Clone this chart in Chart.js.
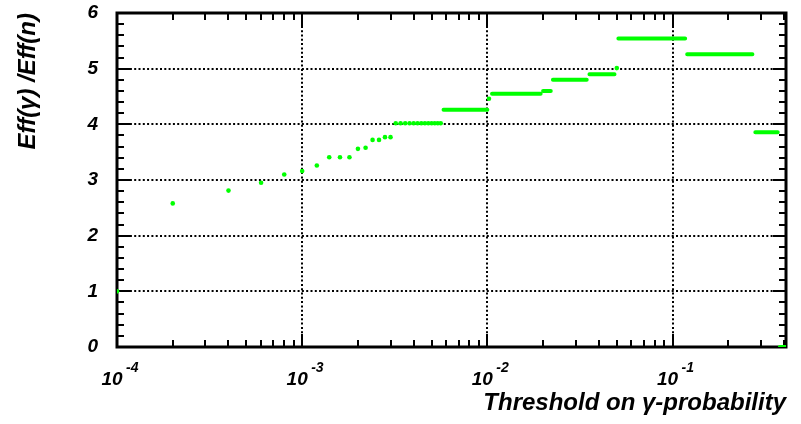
<!DOCTYPE html>
<html lang="en">
<head>
<meta charset="UTF-8">
<title>Eff(gamma)/Eff(n) vs threshold</title>
<script src="https://cdn.jsdelivr.net/npm/chart.js"></script>
<style>
  body { margin: 0; background: #fff; }
  .wrap { width: 801px; height: 424px; }
</style>
</head>
<body>
<div class="wrap"><canvas id="effChart"></canvas></div>
<script>
// thresholds drawn as single points
const dotX = [1e-4, 2e-4, 4e-4, 6e-4, 8e-4, 1.0e-3, 1.2e-3, 1.4e-3, 1.6e-3, 1.8e-3,
              2.0e-3, 2.2e-3, 2.4e-3, 2.6e-3, 2.8e-3, 3.0e-3, 3.2e-3, 3.4e-3, 3.6e-3, 3.8e-3,
              4.0e-3, 4.2e-3, 4.4e-3, 4.6e-3, 4.8e-3, 5.0e-3, 5.2e-3, 5.4e-3, 5.6e-3, 1.02e-2, 5.0e-2];
const dotY = [1.00, 2.58, 2.81, 2.95, 3.10, 3.16, 3.26, 3.41, 3.41, 3.41,
              3.56, 3.58, 3.72, 3.72, 3.77, 3.77, 4.02, 4.02, 4.02, 4.02,
              4.02, 4.02, 4.02, 4.02, 4.02, 4.02, 4.02, 4.02, 4.02, 4.46, 5.01];

// plateaus where many thresholds give the same ratio
const stepStart = [5.8e-3, 1.06e-2, 2.0e-2, 2.26e-2, 3.56e-2, 5.1e-2, 0.12, 0.28, 0.38];
const stepEnd   = [1.0e-2, 1.94e-2, 2.2e-2, 3.44e-2, 4.86e-2, 0.117, 0.27, 0.37, 0.41];
const stepY     = [4.26, 4.55, 4.60, 4.80, 4.90, 5.54, 5.26, 3.86, 0.0];

// axis labels
const xDecades = [1e-4, 1e-3, 1e-2, 1e-1];
const xExponents = ['-4', '-3', '-2', '-1'];
const yTicks = [0, 1, 2, 3, 4, 5, 6];

const FONT = "'Liberation Sans', Arial, sans-serif";
const GREEN = '#00ff00';

const dots = dotX.map((x, i) => ({ x: x, y: dotY[i] }));
const steps = [];
stepStart.forEach((s, i) => {
  steps.push({ x: s, y: stepY[i] }, { x: stepEnd[i], y: stepY[i] }, { x: stepEnd[i], y: null });
});

// ROOT style frame: dotted grid, inward ticks, thick box
const framePlugin = {
  id: 'rootFrame',
  beforeDatasetsDraw(chart) {
    const { ctx, chartArea: a, scales: { x, y } } = chart;
    ctx.save();
    ctx.strokeStyle = '#000';

    // dotted grid at decades and integer ratios
    ctx.lineWidth = 2;
    ctx.setLineDash([2, 2.3]);
    ctx.beginPath();
    xDecades.slice(1).forEach(v => {
      const px = Math.round(x.getPixelForValue(v));
      ctx.moveTo(px, a.top);
      ctx.lineTo(px, a.bottom);
    });
    yTicks.slice(1, -1).forEach(v => {
      const py = Math.round(y.getPixelForValue(v));
      ctx.moveTo(a.left, py);
      ctx.lineTo(a.right, py);
    });
    ctx.stroke();
    ctx.setLineDash([]);

    // ticks on all four sides, pointing in
    ctx.beginPath();
    xDecades.forEach(d => {
      for (let k = 1; k <= 9; k++) {
        const v = k * d;
        if (v > x.max) break;
        const px = Math.round(x.getPixelForValue(v));
        const len = k === 1 ? 13 : 7;
        ctx.moveTo(px, a.bottom);
        ctx.lineTo(px, a.bottom - len);
        ctx.moveTo(px, a.top);
        ctx.lineTo(px, a.top + len);
      }
    });
    for (let i = 0; i <= 30; i++) {
      const py = Math.round(y.getPixelForValue(i * 0.2));
      const len = i % 5 === 0 ? 13 : 7;
      ctx.moveTo(a.left, py);
      ctx.lineTo(a.left + len, py);
      ctx.moveTo(a.right, py);
      ctx.lineTo(a.right - len, py);
    }
    ctx.stroke();

    ctx.lineWidth = 3;
    ctx.strokeRect(a.left, a.top, a.right - a.left, a.bottom - a.top);
    ctx.restore();
  },
  afterDraw(chart) {
    const { ctx, scales: { x } } = chart;
    ctx.save();
    ctx.fillStyle = '#000';
    ctx.textBaseline = 'alphabetic';
    xDecades.forEach((d, i) => {
      const px = x.getPixelForValue(d);
      ctx.font = 'italic bold 19px ' + FONT;
      ctx.textAlign = 'center';
      ctx.fillText('10', px - 5, 385);
      ctx.font = 'italic bold 14px ' + FONT;
      ctx.textAlign = 'left';
      ctx.fillText(xExponents[i], px + 9, 372);
    });
    ctx.restore();
  }
};

Chart.defaults.color = '#000';

new Chart(document.getElementById('effChart'), {
  type: 'scatter',
  data: {
    datasets: [{
      label: 'plateaus',
      data: steps,
      showLine: true,
      spanGaps: false,
      borderColor: GREEN,
      borderWidth: 4,
      borderCapStyle: 'round',
      pointRadius: 0,
      clip: 0
    }, {
      label: 'points',
      data: dots,
      showLine: false,
      pointRadius: 2.3,
      pointBorderWidth: 0,
      backgroundColor: GREEN,
      borderColor: GREEN,
      clip: 0
    }]
  },
  options: {
    responsive: true,
    maintainAspectRatio: false,
    animation: false,
    layout: { padding: { top: 13, right: 15, left: 0, bottom: 0 } },
    plugins: { legend: { display: false }, tooltip: { enabled: false } },
    scales: {
      x: {
        type: 'logarithmic',
        position: 'bottom',
        min: 1e-4,
        max: 0.41,
        grid: { display: false, drawTicks: false },
        border: { display: false },
        ticks: { display: false },
        title: {
          display: true,
          text: 'Threshold on γ-probability',
          align: 'end',
          color: '#000',
          font: { family: FONT, size: 24, weight: 'bold', style: 'italic' },
          padding: { top: 0, bottom: 6 }
        },
        afterFit(s) {
          s.height = 77;
          s.paddingLeft = 0;
          s.paddingRight = 0;
        }
      },
      y: {
        type: 'linear',
        min: 0,
        max: 6,
        grid: { display: false, drawTicks: false },
        border: { display: false },
        ticks: {
          stepSize: 1,
          padding: 19,
          color: '#000',
          font: { family: FONT, size: 19, weight: 'bold', style: 'italic' },
          callback: v => yTicks.includes(v) ? String(v) : ''
        },
        title: {
          display: true,
          text: 'Eff(γ) /Eff(n)',
          align: 'end',
          color: '#000',
          font: { family: FONT, size: 24, weight: 'bold', style: 'italic' },
          padding: { top: 14, bottom: 0 }
        },
        afterFit(s) {
          s.width = 117;
          s.paddingTop = 0;
          s.paddingBottom = 0;
        }
      }
    }
  },
  plugins: [framePlugin]
});
</script>
</body>
</html>
